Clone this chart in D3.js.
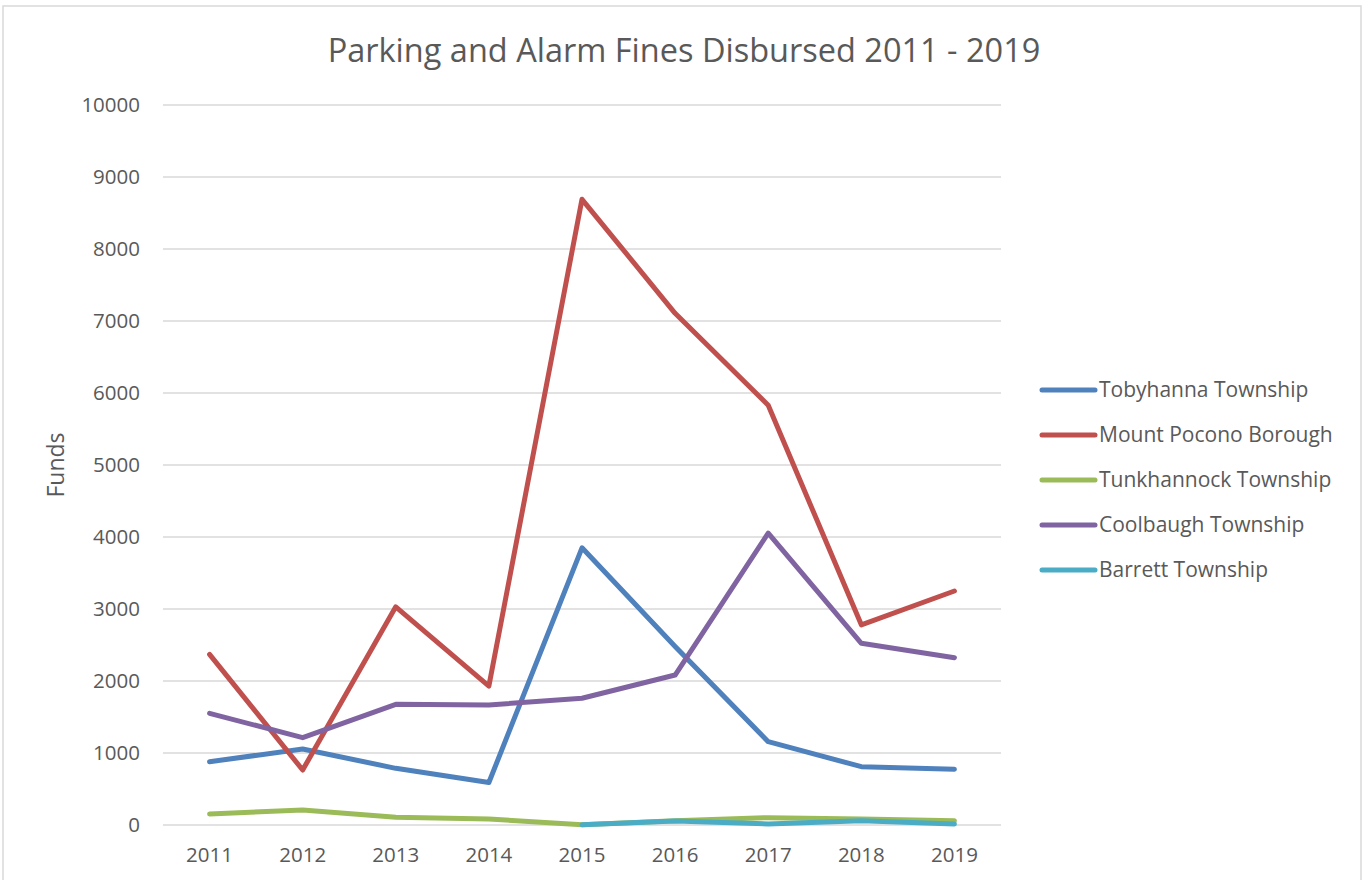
<!DOCTYPE html>
<html><head><meta charset="utf-8">
<script src="https://cdn.jsdelivr.net/npm/d3@7"></script>
<style>body{margin:0;background:#fff;font-family:"Open Sans",sans-serif;}</style>
</head><body><svg id="c" width="1368" height="880"></svg>
<script>
const years = ["2011","2012","2013","2014","2015","2016","2017","2018","2019"];
const seriesNames = ["Tobyhanna Township","Mount Pocono Borough","Tunkhannock Township","Coolbaugh Township","Barrett Township"];
const tobyhanna = [879, 1055, 787, 590, 3850, 2480, 1157, 810, 775];
const mountPocono = [2370, 764, 3030, 1930, 8690, 7107, 5830, 2780, 3250];
const tunkhannock = [153, 208, 107, 83, 5, 60, 102, 85, 60];
const coolbaugh = [1551, 1213, 1676, 1668, 1760, 2083, 4055, 2523, 2324];
const barrett = [null, null, null, null, 5, 55, 14, 60, 14];
const yTicks = [0,1000,2000,3000,4000,5000,6000,7000,8000,9000,10000];
const colors = ["#4F81BD","#C0504D","#9BBB59","#8064A2","#4BACC6"];
const allSeries = [tobyhanna, mountPocono, tunkhannock, coolbaugh, barrett];

const svg = d3.select("#c");
const txt = "#595959";
svg.append("rect").attr("x",3).attr("y",6).attr("width",1358).attr("height",880).attr("fill","none").attr("stroke","#d9d9d9").attr("stroke-width",1.5);

const x = d3.scaleBand().domain(years).range([163,1001]);
const y = d3.scaleLinear().domain([0,10000]).range([825,105]);

svg.append("g").selectAll("line").data(yTicks).join("line")
  .attr("x1",163).attr("x2",1001).attr("y1",d=>y(d)).attr("y2",d=>y(d))
  .attr("stroke","#d9d9d9").attr("stroke-width",1.5);

const ya = svg.append("g").attr("transform","translate(140,0)")
  .call(d3.axisLeft(y).tickValues(yTicks).tickSize(0).tickPadding(0).tickFormat(d3.format("d")));
ya.select(".domain").remove();
ya.selectAll("text").attr("fill",txt).attr("font-size","20.5px").attr("font-family","Open Sans");

const xa = svg.append("g").attr("transform","translate(0,825)")
  .call(d3.axisBottom(x).tickSize(0).tickPadding(22));
xa.select(".domain").remove();
xa.selectAll("text").attr("fill",txt).attr("font-size","20.5px").attr("font-family","Open Sans");

svg.append("text").attr("x",684).attr("y",62).attr("text-anchor","middle")
  .attr("fill",txt).attr("font-size","32.5px").attr("font-family","Open Sans")
  .text("Parking and Alarm Fines Disbursed 2011 - 2019");

svg.append("text").attr("transform","translate(64,465) rotate(-90)").attr("text-anchor","middle")
  .attr("fill",txt).attr("font-size","23px").attr("font-family","Open Sans").text("Funds");

const line = d3.line().defined(d=>d!=null).x((d,i)=>x(years[i])+x.bandwidth()/2).y(d=>y(d));
svg.append("g").selectAll("path").data(allSeries).join("path")
  .attr("d",d=>line(d)).attr("fill","none").attr("stroke",(d,i)=>colors[i])
  .attr("stroke-width",5).attr("stroke-linejoin","round").attr("stroke-linecap","round");

const lg = svg.append("g").selectAll("g").data(seriesNames).join("g")
  .attr("transform",(d,i)=>`translate(0,${390+i*45})`);
lg.append("line").attr("x1",1042).attr("x2",1095).attr("stroke",(d,i)=>colors[i]).attr("stroke-width",5).attr("stroke-linecap","round");
lg.append("text").attr("x",1099).attr("y",7).attr("fill",txt).attr("font-size","21px").attr("font-family","Open Sans").text(d=>d);
</script></body></html>
